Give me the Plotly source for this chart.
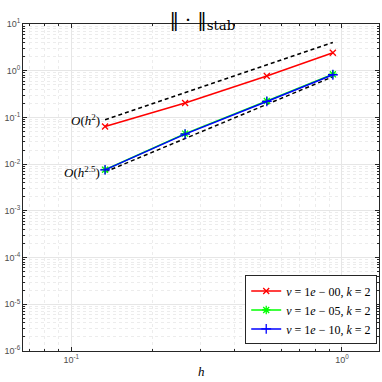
import numpy as np
import plotly.graph_objects as go

# mesh sizes and errors
h = [0.1334, 0.2635, 0.528, 0.926]
err_nu0 = [0.064, 0.203, 0.769, 2.43]
err_nu5 = [0.0076, 0.045, 0.225, 0.84]
err_nu10 = [0.00755, 0.044, 0.22, 0.82]
ref_h2 = [0.089, 0.34, 1.33, 4.03]
ref_h25 = [0.0068, 0.0356, 0.191, 0.743]

names = ["<i>ν</i> = 1<i>e</i> − 00, <i>k</i> = 2",
         "<i>ν</i> = 1<i>e</i> − 05, <i>k</i> = 2",
         "<i>ν</i> = 1<i>e</i> − 10, <i>k</i> = 2"]

SERIF = "Liberation Serif, DejaVu Serif, serif"
SANS = "Liberation Sans, Arial, sans-serif"

fig = go.Figure()

fig.add_scatter(x=h, y=ref_h2, mode="lines", showlegend=False,
                line=dict(color="black", width=1.5, dash="4px,3px"))
fig.add_scatter(x=h, y=ref_h25, mode="lines", showlegend=False,
                line=dict(color="black", width=1.5, dash="4px,3px"))

fig.add_scatter(x=h, y=err_nu0, mode="lines+markers", name=names[0],
                line=dict(color="#ff0000", width=1.5),
                marker=dict(symbol="x-thin-open", size=6,
                            line=dict(color="#ff0000", width=1.3)))
fig.add_scatter(x=h, y=err_nu5, mode="lines+markers", name=names[1],
                line=dict(color="#00ff00", width=1.5),
                marker=dict(symbol="asterisk-open", size=7,
                            line=dict(color="#00ff00", width=1.3)))
fig.add_scatter(x=h, y=err_nu10, mode="lines+markers", name=names[2],
                line=dict(color="#0000ff", width=1.5),
                marker=dict(symbol="cross-thin-open", size=7,
                            line=dict(color="#0000ff", width=1.3)))

# slope labels
fig.add_annotation(x=np.log10(h[0]) - 0.01, y=np.log10(ref_h2[0]), xref="x", yref="y",
                   text="<i>O</i>(<i>h</i><sup>2</sup>)", showarrow=False,
                   xanchor="right", yanchor="middle",
                   font=dict(family=SERIF, size=13, color="black"))
fig.add_annotation(x=np.log10(h[0]) - 0.01, y=np.log10(ref_h25[0]), xref="x", yref="y",
                   text="<i>O</i>(<i>h</i><sup>2.5</sup>)", showarrow=False,
                   xanchor="right", yanchor="middle",
                   font=dict(family=SERIF, size=13, color="black"))

# x axis label
fig.add_annotation(x=0.5, y=-0.063, xref="paper", yref="paper",
                   text="<i>h</i>", showarrow=False,
                   xanchor="center", yanchor="middle",
                   font=dict(family=SERIF, size=13, color="black"))

x_major = [0.1, 1.0]
x_minor = [k * 10.0 ** d for d in (-2, -1, 0) for k in range(2, 10)]
y_major = [10.0 ** d for d in range(-6, 2)]
y_minor = [k * 10.0 ** d for d in range(-6, 1) for k in range(2, 10)]

axis_common = dict(
    showline=True, linecolor="#262626", linewidth=1, mirror="ticks",
    ticks="inside", ticklen=4, tickcolor="#262626",
    showgrid=True, gridcolor="#e6e6e6", gridwidth=1,
    zeroline=False,
    tickfont=dict(family=SANS, size=9, color="#4d4d4d"),
)

fig.update_xaxes(
    type="log", range=[-1.178, 0.137],
    tickvals=x_major, ticktext=["10<sup>-1</sup>", "10<sup>0</sup>"],
    minor=dict(tickvals=x_minor, ticks="inside", ticklen=2, tickcolor="#262626",
               showgrid=True, gridcolor="#ececec", griddash="dot"),
    **axis_common,
)
fig.update_yaxes(
    type="log", range=[-6, 1],
    tickvals=y_major, ticktext=["10<sup>%d</sup>" % d for d in range(-6, 2)],
    minor=dict(tickvals=y_minor, ticks="inside", ticklen=2, tickcolor="#262626",
               showgrid=True, gridcolor="#ececec", griddash="dot"),
    **axis_common,
)

fig.update_layout(
    width=382, height=382,
    margin=dict(l=23, r=3, t=24, b=31),
    paper_bgcolor="white", plot_bgcolor="white",
    title=dict(text="‖ · ‖<sub>stab</sub>", x=0.53, xanchor="center",
               y=0.95, yanchor="middle",
               font=dict(family="DejaVu Serif, serif", size=19, color="black")),
    legend=dict(x=0.995, xanchor="right", y=0.02, yanchor="bottom",
                bgcolor="white", bordercolor="#262626", borderwidth=1,
                font=dict(family=SERIF, size=12, color="black"),
                itemwidth=30, tracegroupgap=0),
)

# drop the page's default body margin so the figure sits at the window corner
fig.write_html("out.html", config={"displayModeBar": False},
               post_script="document.body.style.margin='0';")
